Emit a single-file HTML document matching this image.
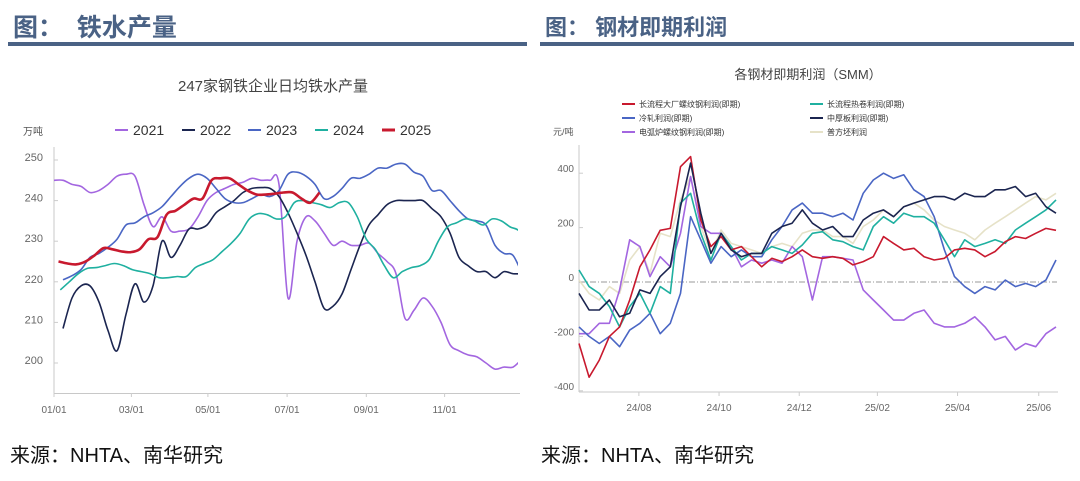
<!DOCTYPE html>
<html><head><meta charset="utf-8">
<style>
body{margin:0;background:#fff;width:1080px;height:481px;overflow:hidden;font-family:"Liberation Sans","Noto Sans CJK SC",sans-serif;}
.hdr{position:absolute;top:8px;font-size:25px;font-weight:bold;color:#4a6285;white-space:pre;}
.bar{position:absolute;top:42px;height:4px;background:#4a6285;}
.src{position:absolute;top:439px;font-size:20px;color:#111;}
svg{position:absolute;left:0;top:0;}
</style></head><body>
<div class="hdr" style="left:13px">图：  铁水产量</div>
<div class="bar" style="left:8px;width:519px"></div>
<div class="hdr" style="left:545px;top:10px;font-size:22px">图： 钢材即期利润</div>
<div class="bar" style="left:540px;width:534px"></div>
<div class="src" style="left:10px">来源：NHTA、南华研究</div>
<div class="src" style="left:541px">来源：NHTA、南华研究</div>
<svg id="chart" width="1080" height="481"></svg>
<script>
// ---------- Left chart data ----------
const lYears = ["2021","2022","2023","2024","2025"];
const lColors = ["#a366e0","#1b2550","#4a66c4","#1fb0a0","#c8192e"];
const lStart = [0,1,1,0.7,0.5];
const lTicks = [250,240,230,220,210,200];
const lXTicks = ["01/01","03/01","05/01","07/01","09/01","11/01"];
const lXTickWeeks = [0,8.6,17.1,25.9,34.7,43.4];
const s2021 = [245,245,244,243.5,242,242.5,244,246,246.5,246,239,233.6,236,232.5,232.5,233,236,240,242,243,244,244.5,245.5,245,245,244,216,230,236,235,232,229,230,229,229,229.5,227,225,222,211,213,216,214,210,204.5,203,202,201.5,200,198.5,199,199,201];
const s2022 = [208.5,216,219,219,215,208,203,212,219.5,215,219,230,226,229,233,233,234,237,238.5,240,242,243,243.2,243,241,237,232,226.5,220,213.5,214,217,223,229,234,236.5,239,240,240,240,240,238,236,232,226,224,222.5,222.5,221,222.5,222,222];
const s2023 = [220.5,221.5,223,226,227,228.5,230.5,234,234.5,236,237,238.5,241,243.5,245.5,246.5,245.5,243,240.5,239.5,239.5,240.5,241.5,241,242.5,246.5,247,246,244,240.5,241,243,245.5,245.5,246.5,248,248,249,249,247,246,242.5,242.5,240,237.5,235.5,235,234,229,227,226.5,222];
const s2024 = [218,220,222,223.3,223.5,224,224.5,224,223,222.5,222,221,221,221.3,221.3,223.5,224.5,225.5,227.5,229.5,232,235.5,236.8,236.5,235.5,236,239.5,240,239.5,239,238.3,239.5,239.5,236,230.5,228,224,221,222.5,223.5,224,225.5,230,233.5,234.5,235.5,235,234,235.5,235,233.5,232.5,228.5];
const s2025 = [225,224.5,224.3,225,226.5,228.3,228,227.5,227.3,228,230.5,231,236.5,237.5,239,240.5,240.5,245,245.5,245.5,244,242.5,241.5,241.5,241.7,242,242,240.5,239.5,242];
const lSeries = [s2021,s2022,s2023,s2024,s2025];

// ---------- Right chart data ----------
const rNames = ["长流程大厂螺纹钢利润(即期)","长流程热卷利润(即期)","冷轧利润(即期)","中厚板利润(即期)","电弧炉螺纹钢利润(即期)","普方坯利润"];
const rColors = ["#c8192e","#1fb0a0","#4a66c4","#1b2550","#a366e0","#e6e2c8"];
const rTicks = [400,200,0,-200,-400];
const rXTicks = ["24/08","24/10","24/12","25/02","25/04","25/06"];
const rXTickIdx = [5.9,13.8,21.7,29.4,37.3,45.3];
const rRebar = [-226,-350,-287,-200,-165,-66,56,118,190,197,424,461,228,130,167,118,130,93,56,87,75,93,118,93,87,93,87,63,75,93,167,142,118,124,93,81,87,118,124,118,93,112,148,167,160,179,197,190];
const rHrc = [44,-17,-42,-90,-165,-90,-42,-115,-17,-42,290,326,179,81,179,130,81,105,105,130,118,105,136,179,185,155,148,130,118,204,240,216,253,240,240,216,155,93,155,130,142,155,142,191,216,240,265,302];
const rCold = [-165,-200,-226,-200,-238,-177,-152,-115,-190,-152,-42,240,155,69,130,93,118,93,93,155,204,265,290,253,253,240,253,228,326,375,400,381,394,339,314,240,118,20,-17,-42,-17,-29,7,-17,-5,-17,7,81];
const rPlate = [-42,-103,-103,-66,-128,-115,-29,-42,20,56,277,437,253,105,179,118,93,105,105,179,204,216,265,216,191,204,167,167,228,253,265,240,277,290,302,314,314,302,326,314,314,339,339,351,314,326,277,253];
const rEaf = [-190,-190,-152,-152,-29,155,130,20,93,56,179,388,204,179,179,130,56,81,69,81,69,130,93,-66,93,93,87,81,-29,-66,-103,-140,-140,-115,-103,-152,-165,-165,-152,-128,-165,-213,-200,-250,-226,-238,-190,-165];
const rBillet = [7,-42,-66,-17,-42,81,130,32,179,167,302,388,204,105,191,142,130,118,105,130,142,130,179,191,191,167,167,142,204,228,265,240,277,290,265,228,204,191,179,155,191,216,240,265,290,314,302,326];
const rSeries = [rRebar,rHrc,rCold,rPlate,rEaf,rBillet];

const NS="http://www.w3.org/2000/svg";
const svg=document.getElementById('chart');
function mk(tag,attrs,parent){const e=document.createElementNS(NS,tag);for(const k in attrs)e.setAttribute(k,attrs[k]);(parent||svg).appendChild(e);return e;}
function txt(x,y,s,size,fill,anchor){const t=mk('text',{x:x,y:y,'font-size':size,fill:fill,'text-anchor':anchor||'start','font-family':'"Liberation Sans","Noto Sans CJK SC",sans-serif'});t.textContent=s;return t;}
function smooth(pts){let d='M'+pts[0][0].toFixed(1)+','+pts[0][1].toFixed(1);for(let i=0;i<pts.length-1;i++){const p0=pts[Math.max(0,i-1)],p1=pts[i],p2=pts[i+1],p3=pts[Math.min(pts.length-1,i+2)];const c1x=p1[0]+(p2[0]-p0[0])/6,c1y=p1[1]+(p2[1]-p0[1])/6,c2x=p2[0]-(p3[0]-p1[0])/6,c2y=p2[1]-(p3[1]-p1[1])/6;d+='C'+c1x.toFixed(1)+','+c1y.toFixed(1)+' '+c2x.toFixed(1)+','+c2y.toFixed(1)+' '+p2[0].toFixed(1)+','+p2[1].toFixed(1);}return d;}

// ---- Left chart ----
const lx=w=>54+9.0*w;
const ly=v=>363-(v-200)*4.06;
let t=txt(273,91,'247家钢铁企业日均铁水产量',15,'#444','middle');

t=txt(23,135,'万吨',10,'#555');
let ax=mk('line',{x1:54,y1:147,x2:54,y2:394,stroke:'#c8c8c8','stroke-width':1});

ax=mk('line',{x1:54,y1:393.5,x2:520,y2:393.5,stroke:'#c8c8c8','stroke-width':1});

lTicks.forEach(v=>{const y=ly(v);mk('line',{x1:54,y1:y,x2:58,y2:y,stroke:'#ccc'});
 const e=txt(43,y+1,String(v),11,'#666','end');});
lXTicks.forEach((s,i)=>{const x=lx(lXTickWeeks[i]);mk('line',{x1:x,y1:393,x2:x,y2:397,stroke:'#ccc'});
 const e=txt(x,413,s,10,'#666','middle');});
mk('clipPath',{id:'lc'});document.getElementById('lc').appendChild(document.createElementNS(NS,'rect'));
const lcr=document.querySelector('#lc rect');lcr.setAttribute('x',54);lcr.setAttribute('y',140);lcr.setAttribute('width',464);lcr.setAttribute('height',260);
lSeries.forEach((s,k)=>{const pts=s.map((v,i)=>[lx(lStart[k]+i),ly(v)]);
 const p=mk('path',{d:smooth(pts),fill:'none',stroke:lColors[k],'stroke-width':k==4?2.6:1.6,'clip-path':'url(#lc)'});
 });
const lLegX=[115,182,248,315,382];
lYears.forEach((y,k)=>{const g=mk('g',{});
 
 mk('line',{x1:lLegX[k],y1:130,x2:lLegX[k]+13,y2:130,stroke:lColors[k],'stroke-width':k==4?3:2},g);
 const e=txt(lLegX[k]+18,135,y,14,'#333');g.appendChild(e);});

// ---- Right chart ----
const N=rRebar.length;
const rx=i=>579+i*(477/(N-1));
const ry=v=>282-v*0.272;
t=txt(808,79,'各钢材即期利润（SMM）',13,'#444','middle');

t=txt(553,135,'元/吨',9,'#555');
ax=mk('line',{x1:579,y1:145,x2:579,y2:392,stroke:'#c8c8c8'});

ax=mk('line',{x1:579,y1:392,x2:1058,y2:392,stroke:'#c8c8c8'});

rTicks.forEach(v=>{const y=ry(v);mk('line',{x1:579,y1:y,x2:583,y2:y,stroke:'#ccc'});
 const e=txt(574,y-1,String(v),10,'#666','end');});
rXTicks.forEach((s,i)=>{const x=rx(rXTickIdx[i]);mk('line',{x1:x,y1:392,x2:x,y2:396,stroke:'#ccc'});
 const e=txt(x,411,s,10,'#666','middle');});
const zl=mk('line',{x1:579,y1:ry(0),x2:1057,y2:ry(0),stroke:'#999','stroke-width':1,'stroke-dasharray':'6,2,1,2'});

const order=[5,4,2,1,0,3];
order.forEach(k=>{const s=rSeries[k];const d=s.map((v,i)=>(i?'L':'M')+rx(i).toFixed(1)+','+ry(v).toFixed(1)).join('');
 const p=mk('path',{d:d,fill:'none',stroke:rColors[k],'stroke-width':1.6,'stroke-linejoin':'round'});
 });
const rLegPos=[[622,104],[810,104],[622,118],[810,118],[622,132],[810,132]];
rNames.forEach((n,k)=>{const g=mk('g',{});
 
 const [x,y]=rLegPos[k];
 mk('line',{x1:x,y1:y,x2:x+13,y2:y,stroke:rColors[k],'stroke-width':2},g);
 const e=txt(x+17,y+3,n,8,'#333');g.appendChild(e);});
</script>
</body></html>
